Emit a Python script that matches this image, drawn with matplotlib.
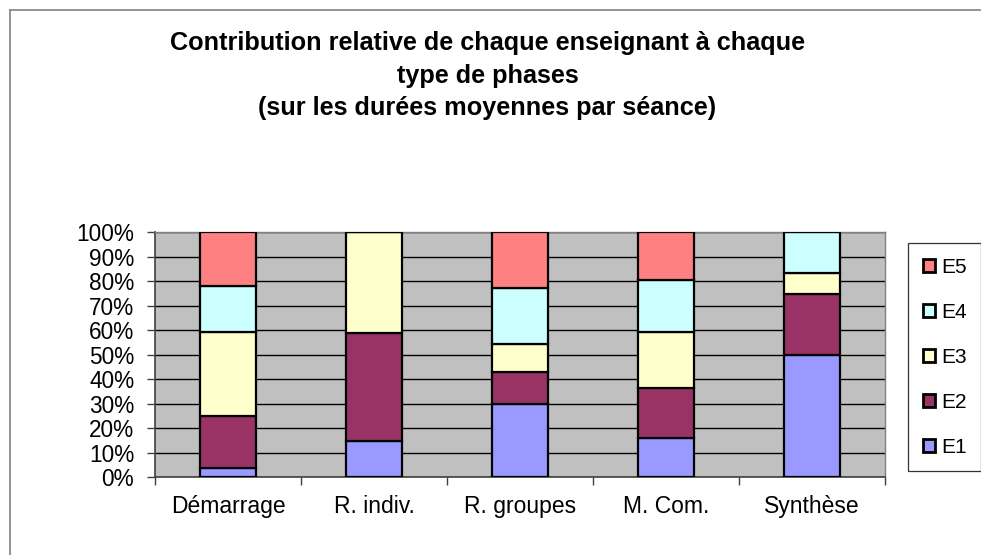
import matplotlib
matplotlib.use("Agg")
import matplotlib.pyplot as plt
from matplotlib.lines import Line2D
import numpy as np

# Phase types and each teacher's share of the mean duration per session (%)
phases = ["Démarrage", "R. indiv.", "R. groupes", "M. Com.", "Synthèse"]
e1 = [3.6, 14.8, 29.7, 15.8, 49.9]
e2 = [21.4, 44.0, 13.4, 20.7, 24.9]
e3 = [34.3, 41.2, 11.4, 22.7, 8.5]
e4 = [18.9, 0.0, 22.7, 21.2, 16.7]
e5 = [21.8, 0.0, 22.8, 19.6, 0.0]
series_names = ["E1", "E2", "E3", "E4", "E5"]
series_colors = ["#9999FF", "#993366", "#FFFFCC", "#CCFFFF", "#FF8080"]
ytick_labels = ["0%", "10%", "20%", "30%", "40%", "50%", "60%", "70%", "80%", "90%", "100%"]
title_lines = ["Contribution relative de chaque enseignant à chaque",
               "type de phases",
               "(sur les durées moyennes par séance)"]

plt.rcParams["font.family"] = ["Liberation Sans", "DejaVu Sans"]

W, H = 981, 555
fig = plt.figure(figsize=(W / 100, H / 100), dpi=100)
fig.patch.set_facecolor("white")

# chart border (left and top edges)
fig.add_artist(Line2D([9.5 / W, 9.5 / W], [0, 1 - 9.5 / H], color="#808080", lw=1.2))
fig.add_artist(Line2D([9.5 / W, 1], [1 - 9.5 / H, 1 - 9.5 / H], color="#808080", lw=1.2))

left, right, bottom, top = 155, 885, 477, 232.5
ax = fig.add_axes([left / W, 1 - bottom / H, (right - left) / W, (bottom - top) / H])
ax.set_facecolor("#C0C0C0")

data = np.array([e1, e2, e3, e4, e5], dtype=float)
shares = data / data.sum(axis=0) * 100
x = np.arange(len(phases))
base = np.zeros(len(phases))
handles = []
for vals, name, col in zip(shares, series_names, series_colors):
    bc = ax.bar(x, vals, width=0.39, bottom=base, color=col, edgecolor="black",
                linewidth=1.6, label=name, zorder=3)
    handles.append(bc)
    base += vals

ax.set_xlim(-0.5, len(phases) - 0.5)
ax.set_ylim(0, 100)
ax.set_yticks(np.arange(0, 101, 10))
ax.set_yticklabels(ytick_labels, fontsize=16.3)
ax.yaxis.grid(True, color="black", lw=1.0, zorder=1)
ax.set_axisbelow(True)

# category boundaries carry the tick marks, labels sit at the centres
ax.set_xticks(np.arange(-0.5, len(phases), 1.0))
ax.set_xticklabels([])
ax.set_xticks(x, minor=True)
ax.set_xticklabels(phases, minor=True, fontsize=16.5)
ax.tick_params(axis="x", which="minor", length=0, pad=13)
ax.tick_params(axis="x", which="major", length=6, width=1, color="#404040", direction="out")
ax.tick_params(axis="y", length=6, width=1, color="#404040", direction="out", pad=9)

for side in ["left", "bottom"]:
    ax.spines[side].set_color("#404040")
    ax.spines[side].set_linewidth(1.2)
for side in ["top", "right"]:
    ax.spines[side].set_color("#808080")
    ax.spines[side].set_linewidth(1.0)

leg = fig.legend(handles=handles[::-1], labels=series_names[::-1],
                 loc="upper left", bbox_to_anchor=(908.3 / W, 1 - 243 / H),
                 frameon=True, fancybox=False, edgecolor="black", fontsize=15,
                 handlelength=0.58, handleheight=0.58, handletextpad=0.3,
                 labelspacing=1.25, borderpad=0.7, borderaxespad=0)
leg.get_frame().set_linewidth(0.9)
for patch in leg.get_patches():
    patch.set_linewidth(2.0)

for line, yb in zip(title_lines, [50, 82.5, 115]):
    fig.text(487.5 / W, 1 - yb / H, line, ha="center", va="baseline",
             fontsize=18.2, fontweight="bold")

fig.savefig("out.png", dpi=100)
